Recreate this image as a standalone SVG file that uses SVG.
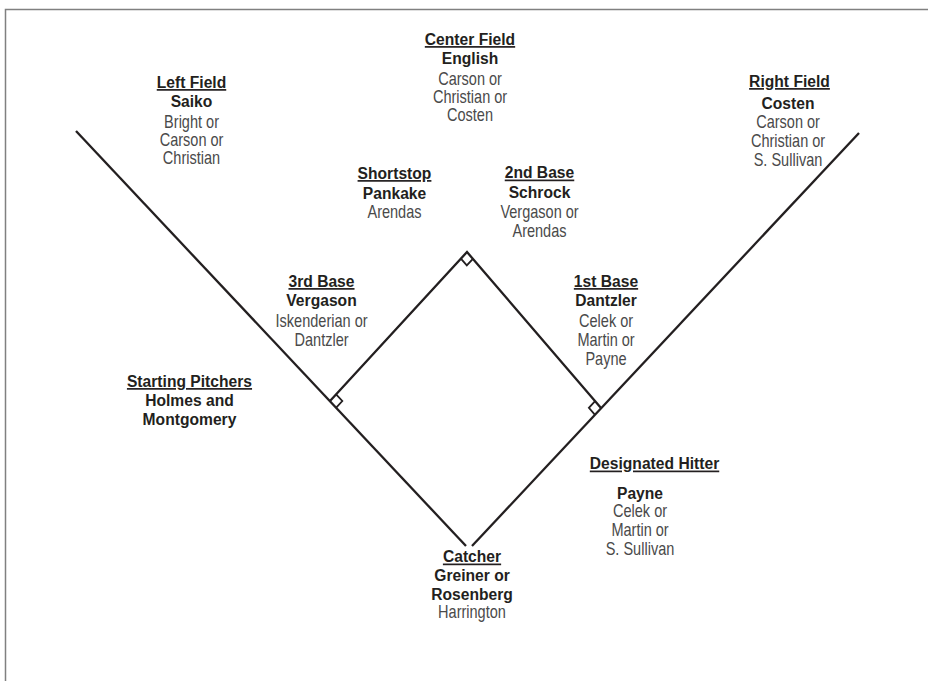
<svg xmlns="http://www.w3.org/2000/svg" width="928" height="681" viewBox="0 0 928 681">
<style>
text{font-family:"Liberation Sans",Arial,sans-serif;text-anchor:middle;transform-box:fill-box;transform-origin:center}
.t{font-weight:bold;font-size:17px;fill:#231f20;text-decoration:underline;transform:scaleX(0.92)}
.b{font-weight:bold;font-size:17px;fill:#231f20;transform:scaleX(0.92)}
.r{font-size:17.5px;fill:#4a4a4a;transform:scaleX(0.83)}
.ln{fill:none;stroke:#231f20;stroke-width:2.3}
.mk{fill:none;stroke:#231f20;stroke-width:1.8}
</style>
<rect width="928" height="681" fill="#fff"/>
<path d="M5.5,681 V9.5 H928" fill="none" stroke="#808080" stroke-width="1.5"/>
<g id="connectors">
<line class="ln" x1="76" y1="131" x2="466" y2="546"/>
<line class="ln" x1="859" y1="133" x2="472" y2="546"/>
<polyline class="ln" points="330,401 467,252 601,408"/>
<polyline class="mk" points="460.9,258.6 466.8,265.4 472.9,258.8"/>
<polyline class="mk" points="336.1,394.4 342.3,401 336.2,407.6"/>
<polyline class="mk" points="595.1,401.2 588.9,407.8 594.8,414.6"/>
</g>
<g id="center-field">
<text class="t" x="470" y="45">Center Field</text>
<text class="b" x="470" y="64">English</text>
<text class="r" x="470" y="85.5">Carson or</text>
<text class="r" x="470" y="103.5">Christian or</text>
<text class="r" x="470" y="121.5">Costen</text>
</g>
<g id="left-field">
<text class="t" x="191.5" y="88">Left Field</text>
<text class="b" x="191.5" y="107">Saiko</text>
<text class="r" x="191.5" y="128.5">Bright or</text>
<text class="r" x="191.5" y="146.5">Carson or</text>
<text class="r" x="191.5" y="164.5">Christian</text>
</g>
<g id="right-field">
<text class="t" x="789.5" y="87">Right Field</text>
<text class="b" x="788" y="109.5">Costen</text>
<text class="r" x="788" y="128">Carson or</text>
<text class="r" x="788" y="147">Christian or</text>
<text class="r" x="788" y="166">S. Sullivan</text>
</g>
<g id="shortstop">
<text class="t" x="394.5" y="179">Shortstop</text>
<text class="b" x="394.5" y="199">Pankake</text>
<text class="r" x="394.5" y="218">Arendas</text>
</g>
<g id="second-base">
<text class="t" x="539.5" y="178.5">2nd Base</text>
<text class="b" x="539.5" y="198">Schrock</text>
<text class="r" x="539.5" y="218">Vergason or</text>
<text class="r" x="539.5" y="237">Arendas</text>
</g>
<g id="third-base">
<text class="t" x="321.5" y="287">3rd Base</text>
<text class="b" x="321.5" y="306">Vergason</text>
<text class="r" x="321.5" y="327">Iskenderian or</text>
<text class="r" x="321.5" y="346">Dantzler</text>
</g>
<g id="first-base">
<text class="t" x="606" y="287">1st Base</text>
<text class="b" x="606" y="306">Dantzler</text>
<text class="r" x="606" y="327">Celek or</text>
<text class="r" x="606" y="346">Martin or</text>
<text class="r" x="606" y="365">Payne</text>
</g>
<g id="starting-pitchers">
<text class="t" x="189.5" y="387">Starting Pitchers</text>
<text class="b" x="189.5" y="406">Holmes and</text>
<text class="b" x="189.5" y="425">Montgomery</text>
</g>
<g id="designated-hitter">
<text class="t" x="654.5" y="469.5">Designated Hitter</text>
<text class="b" x="640" y="499">Payne</text>
<text class="r" x="640" y="517">Celek or</text>
<text class="r" x="640" y="536">Martin or</text>
<text class="r" x="640" y="555">S. Sullivan</text>
</g>
<g id="catcher">
<text class="t" x="472" y="562.5">Catcher</text>
<text class="b" x="472" y="581.5">Greiner or</text>
<text class="b" x="472" y="600.5">Rosenberg</text>
<text class="r" x="472" y="618.5">Harrington</text>
</g>
</svg>
